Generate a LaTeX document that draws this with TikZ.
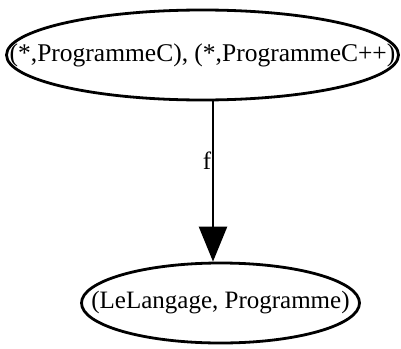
\documentclass[tikz,border=0pt]{standalone}
\usepackage{fontspec}
\setmainfont{Liberation Serif}
\usetikzlibrary{arrows.meta,shapes.geometric}
\newcommand{\zw}[1]{\makebox[0pt]{#1}}

\begin{document}
\begin{tikzpicture}[
  x=1pt,y=-1pt,
  font=\fontsize{25}{28}\selectfont,
  set/.style={draw,ellipse,line width=2.8pt,inner sep=0pt},
  >={Triangle[length=35pt,width=28pt]}
]
\useasboundingbox (0,0) rectangle (401,348);
\node[set,minimum width=392pt,minimum height=90pt] (progs) at (202.5,55)
  {\zw{\fontsize{25.5}{28}\selectfont(*,ProgrammeC), (*,ProgrammeC++)}};
\node[set,minimum width=278pt,minimum height=80pt] (lang) at (220.5,303)
  {\zw{(LeLangage, Programme)}};
\draw[->,line width=2.5pt] ([xshift=10.5pt]progs.south) --
  node[left,pos=0.37,inner sep=0.5pt]{f} ([xshift=10.5pt]progs.south |- lang.north);
\end{tikzpicture}
\end{document}
